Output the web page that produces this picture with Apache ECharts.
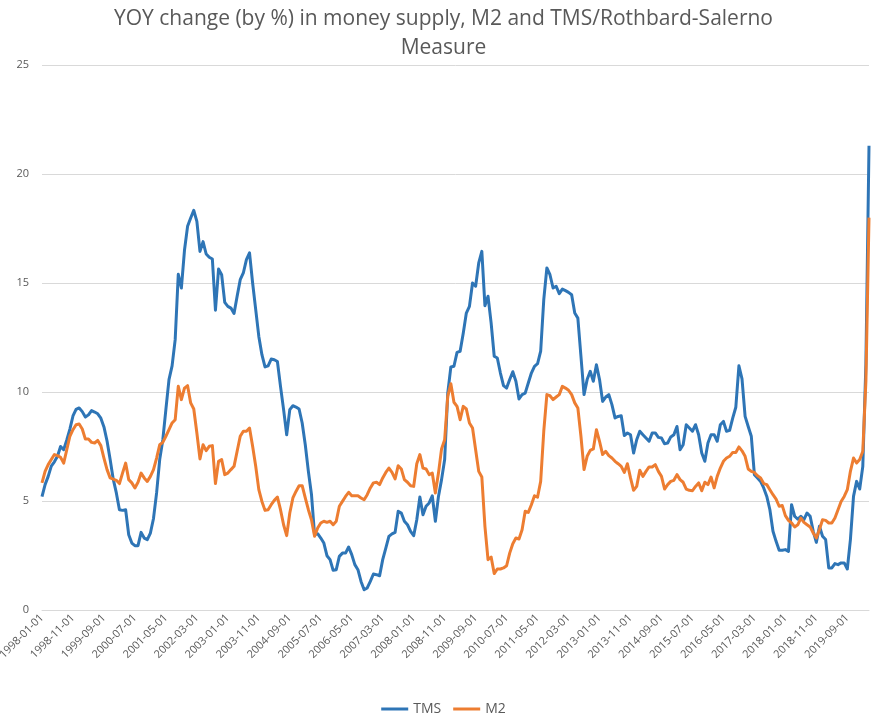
<!DOCTYPE html>
<html>
<head>
<meta charset="utf-8">
<script src="https://cdn.jsdelivr.net/npm/echarts@6/dist/echarts.min.js"></script>
<style>
  html, body { margin: 0; padding: 0; background: #fff; }
  #chart { width: 887px; height: 721px; }
</style>
</head>
<body>
<div id="chart"></div>
<script>
// monthly categories, 1998-01-01 .. 2020-04-01
const months = [];
for (let y = 1998; y <= 2020; y++) {
  for (let mo = 1; mo <= 12; mo++) {
    if (y === 2020 && mo > 4) break;
    months.push(y + '-' + (mo < 10 ? '0' + mo : mo) + '-01');
  }
}

// TMS (Rothbard-Salerno) YoY %
const tms = [
  5.2, 5.75, 6.13, 6.6, 6.8, 7.05, 7.5, 7.35, 7.8, 8.3, 8.9, 9.2,
  9.27, 9.1, 8.85, 8.95, 9.15, 9.08, 9.0, 8.8, 8.4, 7.75, 6.9, 6.0,
  5.37, 4.6, 4.57, 4.6, 3.45, 3.07, 2.95, 2.95, 3.56, 3.3, 3.23, 3.53,
  4.2, 5.37, 6.9, 7.8, 9.2, 10.57, 11.2, 12.4, 15.4, 14.77, 16.5, 17.6,
  17.98, 18.33, 17.83, 16.45, 16.9, 16.33, 16.18, 16.1, 13.75, 15.64, 15.38, 14.11,
  13.93, 13.85, 13.6, 14.39, 15.15, 15.46, 16.07, 16.38, 15.0, 13.78, 12.55, 11.71,
  11.15, 11.2, 11.51, 11.48, 11.4, 10.26, 9.19, 8.04, 9.19, 9.37, 9.31, 9.22,
  8.58, 7.58, 6.36, 5.3, 3.45, 3.5, 3.3, 3.07, 2.49, 2.31, 1.82, 1.85,
  2.46, 2.61, 2.61, 2.89, 2.54, 2.08, 1.85, 1.31, 0.93, 1.01, 1.31, 1.65,
  1.62, 1.57, 2.31, 2.84, 3.38, 3.49, 3.56, 4.53, 4.45, 4.07, 3.91, 3.61,
  3.41, 4.14, 5.18, 4.37, 4.76, 4.91, 5.24, 4.07, 5.21, 5.98, 6.9, 9.95,
  11.15, 11.18, 11.82, 11.87, 12.7, 13.62, 13.93, 15.0, 14.85, 15.92, 16.45, 13.96,
  14.39, 13.17, 11.64, 11.56, 10.87, 10.29, 10.18, 10.57, 10.93, 10.49, 9.68, 9.88,
  9.95, 10.41, 10.87, 11.18, 11.3, 11.87, 14.24, 15.69, 15.38, 14.77, 14.85, 14.51,
  14.72, 14.65, 14.57, 14.46, 13.62, 13.39, 11.64, 9.88, 10.57, 10.95, 10.49, 11.25,
  10.57, 9.57, 9.77, 9.88, 9.42, 8.81, 8.88, 8.91, 8.0, 8.12, 8.04, 7.2,
  7.81, 8.2, 8.04, 7.89, 7.74, 8.12, 8.12, 7.92, 7.89, 7.63, 7.66, 7.94,
  8.04, 8.42, 7.35, 7.58, 8.5, 8.35, 8.2, 8.5, 8.04, 7.2, 6.82, 7.66,
  8.04, 8.04, 7.74, 8.5, 8.65, 8.2, 8.24, 8.8, 9.3, 11.2, 10.6, 8.88,
  8.42, 7.97, 6.21, 6.06, 5.9, 5.6, 5.21, 4.6, 3.61, 3.15, 2.74, 2.74,
  2.77, 2.69, 4.83, 4.3, 4.17, 4.3, 4.14, 4.45, 4.3, 3.61, 3.1, 3.84,
  3.38, 3.23, 1.93, 1.93, 2.13, 2.08, 2.16, 2.16, 1.88, 3.23, 5.21, 5.9,
  5.55, 6.59, 11.3, 21.3
];

// M2 YoY %
const m2 = [
  5.83, 6.36, 6.67, 6.9, 7.13, 7.08, 7.0, 6.74, 7.35, 7.97, 8.27, 8.5,
  8.53, 8.3, 7.84, 7.84, 7.69, 7.66, 7.78, 7.54, 6.97, 6.44, 6.06, 6.0,
  5.95, 5.8, 6.28, 6.74, 5.98, 5.83, 5.6, 5.86, 6.28, 6.06, 5.9, 6.13,
  6.44, 6.97, 7.58, 7.69, 7.97, 8.27, 8.58, 8.73, 10.26, 9.65, 10.18, 10.29,
  9.5, 9.22, 8.12, 6.93, 7.58, 7.31, 7.51, 7.54, 5.8, 6.82, 6.9, 6.21,
  6.28, 6.44, 6.59, 7.28, 7.97, 8.2, 8.2, 8.35, 7.51, 6.59, 5.52, 4.98,
  4.57, 4.6, 4.83, 5.03, 5.18, 4.6, 3.91, 3.41, 4.45, 5.14, 5.44, 5.7,
  5.7, 5.14, 4.6, 4.14, 3.38, 3.76, 3.99, 4.07, 4.02, 4.07, 3.91, 4.07,
  4.76, 4.98, 5.21, 5.4, 5.24, 5.24, 5.24, 5.14, 5.06, 5.29, 5.6, 5.83,
  5.86, 5.75, 6.06, 6.31, 6.51, 6.31, 6.01, 6.62, 6.47, 5.98, 5.86, 5.7,
  5.67, 6.71, 7.13, 6.51, 6.47, 6.21, 6.28, 5.37, 6.28, 7.39, 7.81, 9.8,
  10.38, 9.53, 9.34, 8.73, 9.34, 9.22, 8.58, 8.35, 7.35, 6.36, 6.1, 3.84,
  2.31, 2.43, 1.67, 1.88, 1.88, 1.93, 2.03, 2.61, 3.04, 3.3, 3.26, 3.68,
  4.53, 4.48, 4.83, 5.24, 5.18, 5.9, 8.2, 9.88, 9.83, 9.65, 9.77, 9.88,
  10.26, 10.18, 10.08, 9.88, 9.5, 9.27, 7.97, 6.44, 7.05, 7.32, 7.39, 8.27,
  7.74, 7.13, 7.28, 7.08, 6.97, 6.82, 6.71, 6.59, 6.31, 6.71, 6.06, 5.49,
  5.67, 6.41, 6.13, 6.36, 6.56, 6.56, 6.67, 6.36, 6.13, 5.55, 5.75, 5.9,
  5.95, 6.21, 5.98, 5.86, 5.55, 5.49, 5.47, 5.67, 5.83, 5.47, 5.86, 5.75,
  6.1, 5.6, 6.13, 6.51, 6.82, 6.97, 7.05, 7.23, 7.23, 7.48, 7.3, 7.05,
  6.47, 6.36, 6.31, 6.16, 6.06, 5.8, 5.75, 5.52, 5.29, 5.09, 4.76, 4.79,
  4.33, 4.11, 3.99, 3.81, 3.91, 4.22, 4.02, 3.91, 3.81, 3.53, 3.3, 3.69,
  4.14, 4.11, 3.99, 3.99, 4.22, 4.6, 4.98, 5.21, 5.52, 6.36, 6.97, 6.74,
  6.9, 7.28, 10.5, 18.0
];

const textColor = '#595959';
const fontFam = '"Open Sans", "Noto Sans", sans-serif';

const chart = echarts.init(document.getElementById('chart'));
chart.setOption({
  backgroundColor: '#fff',
  animation: false,
  textStyle: { fontFamily: fontFam },
  title: {
    text: 'YOY change (by %) in money supply, M2 and TMS/Rothbard-Salerno\nMeasure',
    left: 'center',
    top: 0,
    textStyle: {
      fontFamily: fontFam,
      fontSize: 21,
      fontWeight: 'normal',
      color: textColor,
      lineHeight: 29
    }
  },
  legend: {
    bottom: 0,
    left: 'center',
    icon: 'rect',
    itemWidth: 27,
    itemHeight: 3,
    itemGap: 12,
    textStyle: { fontFamily: fontFam, fontSize: 14, color: textColor },
    data: ['TMS', 'M2']
  },
  grid: { left: 42, right: 18, top: 65, bottom: 111, outerBoundsMode: 'none', containLabel: false },
  xAxis: {
    type: 'category',
    data: months,
    boundaryGap: false,
    axisLine: { lineStyle: { color: '#d9d9d9' } },
    axisTick: { show: false },
    axisLabel: {
      interval: 9,
      rotate: 45,
      fontSize: 11,
      color: textColor,
      margin: 6,
      fontFamily: fontFam
    }
  },
  yAxis: {
    type: 'value',
    min: 0,
    max: 25,
    interval: 5,
    axisLine: { show: false },
    axisTick: { show: false },
    axisLabel: { fontSize: 11, color: textColor, margin: 13, fontFamily: fontFam },
    splitLine: { lineStyle: { color: '#d9d9d9', width: 1 } }
  },
  series: [
    {
      name: 'TMS',
      type: 'line',
      data: tms,
      showSymbol: false,
      symbol: 'none',
      color: '#2E75B6',
      lineStyle: { width: 3, color: '#2E75B6', join: 'round' }
    },
    {
      name: 'M2',
      type: 'line',
      data: m2,
      showSymbol: false,
      symbol: 'none',
      color: '#ED7D31',
      lineStyle: { width: 3, color: '#ED7D31', join: 'round' }
    }
  ]
});
</script>
</body>
</html>
